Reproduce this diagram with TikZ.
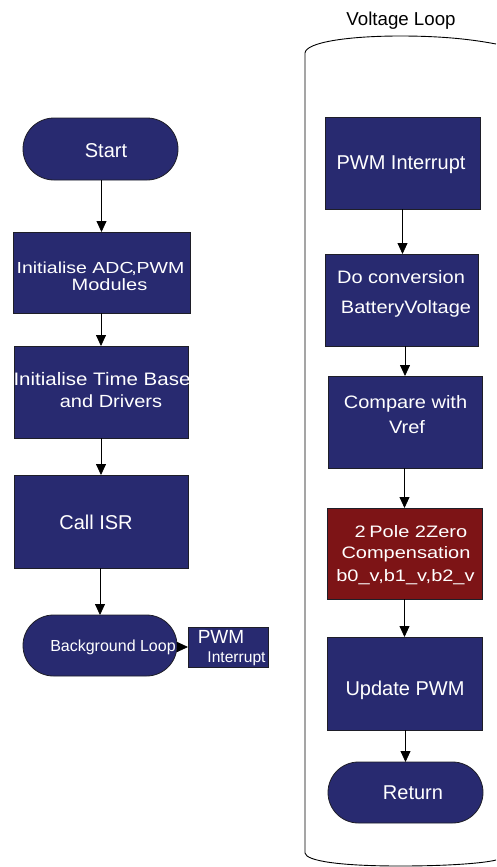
\documentclass[tikz,border=0pt]{standalone}
\usepackage{fontspec}
\usepackage{graphicx}
\setmainfont{Liberation Sans}
\usetikzlibrary{arrows.meta,shapes.misc}
\definecolor{boxblue}{RGB}{40,42,112}
\definecolor{boxred}{RGB}{125,20,22}
\definecolor{edge}{RGB}{30,30,40}
\newcommand{\fs}[1]{\fontsize{#1}{#1}\selectfont}
\newcommand{\vsq}[2]{\scalebox{1}[#1]{#2}}
\tikzset{
  blk/.style={draw=edge, line width=0.8pt, fill=boxblue, inner sep=0pt, outer sep=0pt},
  procbox/.style={blk, rectangle, minimum width=#1},
  termbox/.style={blk, rounded rectangle, minimum width=#1},
  lbl/.style={text=white, anchor=base, inner sep=0pt, font=\fs{20}},
  flow/.style={draw=black, line width=0.8pt, -{Triangle[width=10pt,length=11pt]}}
}
\begin{document}
\begin{tikzpicture}[x=1pt,y=-1pt]
\useasboundingbox (0,0) rectangle (496,867);

% ---------- main program ----------
\node[termbox=155pt, minimum height=62pt] (start) at (100.5,149) {};
\node[procbox=177pt, minimum height=81pt] (adc) at (101.5,272.5) {};
\node[procbox=174pt, minimum height=92pt] (tbase) at (101,392) {};
\node[procbox=174pt, minimum height=93pt] (isr) at (101,521.5) {};
\node[termbox=154pt, minimum height=61pt] (bgloop) at (100,645.5) {};
\node[procbox=80pt, minimum height=40pt] (pwmsmall) at (228,647) {};

\node[lbl] (tstart) at (106,157) {Start};
\node[lbl, font=\fs{19.5}] (tadc1) at (100.5,273) {\vsq{0.82}{Initialise ADC\kern-0.12em,PWM}};
\node[lbl] (tadc2) at (109.5,290) {\vsq{0.82}{Modules}};
\node[lbl, font=\fs{20.5}] (ttb1) at (102,385) {\vsq{0.88}{Initialise Time Base}};
\node[lbl] (ttb2) at (111,407) {\vsq{0.88}{and Drivers}};
\node[lbl] (tisr) at (96,529) {Call ISR};
\node[lbl, font=\fs{16}] (tbg) at (113,651) {Background Loop};
\node[lbl, font=\fs{19}] (tpwm1) at (221,643) {PWM};
\node[lbl, font=\fs{15.6}] (tpwm2) at (236.5,662) {Interrupt};

\draw[flow] (adc.north |- start.south) -- (adc.north);
\draw[flow] (tbase.north |- adc.south) -- (tbase.north);
\draw[flow] (isr.north |- tbase.south) -- (isr.north);
\draw[flow] (bgloop.north |- isr.south) -- (bgloop.north);
\draw[flow] (bgloop.east |- pwmsmall.west) -- (pwmsmall.west);

% ---------- voltage loop ISR ----------
\node[text=black, anchor=base, inner sep=0pt, font=\fs{18.7}] (title) at (401,26) {Voltage Loop};
\draw[line width=0.9pt, draw=black]
  (496,44) .. controls (470,39) and (440,36) .. (400,36)
  .. controls (350,36) and (306,42) .. (305,53)
  -- (305,853)
  .. controls (306,861) and (340,866) .. (400,866)
  .. controls (450,866) and (485,863) .. (496,860);

\node[procbox=155pt, minimum height=92pt] (pwmint) at (402.5,163) {};
\node[procbox=153pt, minimum height=92pt] (conv) at (401.5,300) {};
\node[procbox=154pt, minimum height=92pt] (cmp) at (405,422) {};
\node[procbox=155pt, minimum height=91pt, fill=boxred] (comp) at (404.5,553.5) {};
\node[procbox=155pt, minimum height=93pt] (upd) at (404.5,683.5) {};
\node[termbox=155pt, minimum height=61pt] (ret) at (405.5,792.5) {};

\node[lbl] (tpi) at (401,169) {PWM Interrupt};
\node[lbl] (tcv1) at (401,283) {\vsq{0.9}{Do conversion}};
\node[lbl] (tcv2) at (406,313) {\vsq{0.9}{BatteryVoltage}};
\node[lbl] (tcm1) at (405.5,408) {\vsq{0.9}{Compare with}};
\node[lbl] (tcm2) at (407,433) {\vsq{0.9}{Vref}};
\node[lbl] (tcp1) at (411,537) {\vsq{0.83}{2\kern-0.1em\ Pole 2Zero}};
\node[lbl] (tcp2) at (406,558) {\vsq{0.83}{Compensation}};
\node[lbl] (tcp3) at (405.5,581) {\vsq{0.83}{b0\_v,b1\_v,b2\_v}};
\node[lbl] (tup) at (405,695) {Update PWM};
\node[lbl] (tret) at (413,799) {Return};

\draw[flow] (pwmint.south) -- (pwmint.south |- conv.north);
\draw[flow] (cmp.north |- conv.south) -- (cmp.north);
\draw[flow] (comp.north |- cmp.south) -- (comp.north);
\draw[flow] (upd.north |- comp.south) -- (upd.north);
\draw[flow] (ret.north |- upd.south) -- (ret.north);
\end{tikzpicture}
\end{document}
